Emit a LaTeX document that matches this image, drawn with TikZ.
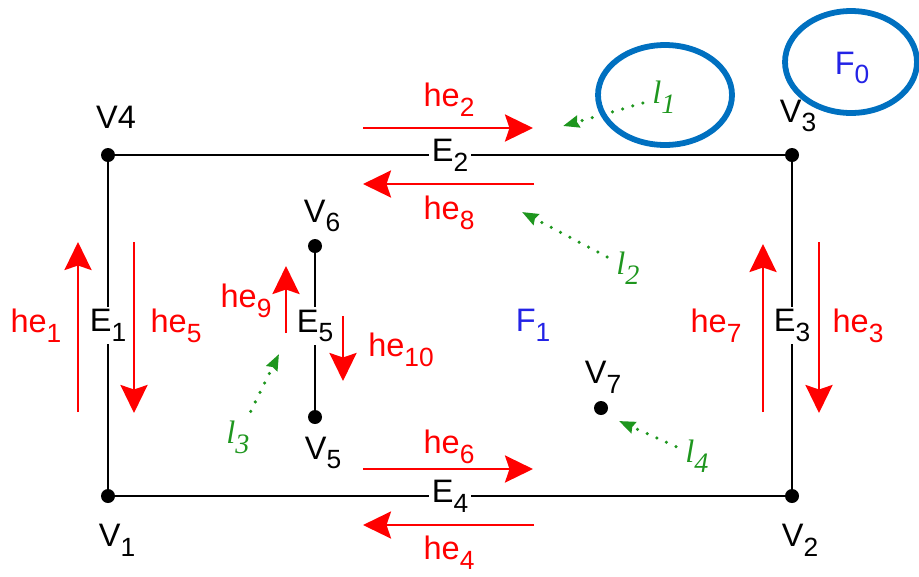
\documentclass[tikz,border=0pt]{standalone}
\usepackage{fontspec}
\setmainfont{Liberation Sans}
\newfontfamily\lserif{Liberation Serif}
\usetikzlibrary{positioning,arrows.meta,calc}

\definecolor{heRed}{RGB}{255,0,0}
\definecolor{lGreen}{RGB}{30,150,30}
\definecolor{fBlue}{RGB}{35,35,230}
\definecolor{ringBlue}{RGB}{0,112,192}

% label with a lowered index
\newcommand{\ix}[2]{#1\raisebox{-0.3em}{\fontsize{15}{15}\selectfont #2}}
\newcommand{\lpt}[1]{{\lserif\itshape l\raisebox{-0.3em}{\fontsize{16}{16}\selectfont #1}}}

\tikzset{
  vtx/.style={circle,fill=black,inner sep=0pt,minimum size=0.28cm},
  edge/.style={line width=1.5pt},
  elab/.style={fill=white,inner sep=1.5pt},
  half/.style={heRed,line width=1.6pt,-{Stealth[length=0.56cm,width=0.54cm,inset=0.09cm]}},
  hlab/.style={text=heRed},
  flab/.style={text=fBlue},
  ptr/.style={lGreen,line width=2pt,dash pattern=on 0pt off 6pt,line cap=round,
    shorten <=2pt,-{Stealth[length=0.32cm,width=0.24cm,inset=0.03cm]}},
  ring/.style={draw=ringBlue,line width=3.3pt}
}

\begin{document}
\begin{tikzpicture}[x=0.02cm,y=-0.02cm,font=\fontsize{18.5}{20}\selectfont]
\useasboundingbox (0,0) rectangle (919,576);

% vertices
\node[vtx] (v1) at (108,496) {};
\node[vtx] (v2) at (792,496) {};
\node[vtx] (v3) at (792,155) {};
\node[vtx] (v4) at (108,155) {};
\node[vtx] (v5) at (315,417) {};
\node[vtx] (v6) at (315,246) {};
\node[vtx] (v7) at (601,408) {};

\node at (117,540) {\ix{V}{1}};
\node at (800,540) {\ix{V}{2}};
\node at (798,116) {\ix{V}{3}};
\node at (116,117) {V4};
\node at (323,453) {\ix{V}{5}};
\node at (322,216) {\ix{V}{6}};
\node at (603,377) {\ix{V}{7}};

% edges
\draw[edge] (v1) -- node[elab] {\ix{E}{4}} (v2);
\draw[edge] (v2) -- node[elab] {\ix{E}{3}} (v3);
\draw[edge] (v3) -- node[elab] {\ix{E}{2}} (v4);
\draw[edge] (v4) -- node[elab] {\ix{E}{1}} (v1);
\draw[edge] (v5) -- node[elab,pos=0.535] {\ix{E}{5}} (v6);

% half edges
\draw[half] (363,128) -- (533,128);
\draw[half] (534,184) -- (363,184);
\draw[half] (363,469) -- (533,469);
\draw[half] (534,525) -- (363,525);
\draw[half] (78,412) -- (78,242);
\draw[half] (134,242) -- (134,413);
\draw[half] (763,412) -- (763,244);
\draw[half] (819,242) -- (819,413);
\draw[half] (286,333) -- (286,266);
\draw[half] (343,316) -- (343,381);

\node[hlab] (he2) at (449,100) {\ix{he}{2}};
\node[hlab] (he8) at (449,213) {\ix{he}{8}};
\node[hlab] (he6) at (449,447) {\ix{he}{6}};
\node[hlab] (he4) at (449,553) {\ix{he}{4}};
\node[hlab] (he1) at (36,326) {\ix{he}{1}};
\node[hlab] (he5) at (176,326) {\ix{he}{5}};
\node[hlab] (he9) at (246,301) {\ix{he}{9}};
\node[hlab] (he10) at (401,350) {\ix{he}{10}};
\node[hlab] (he7) at (716,326) {\ix{he}{7}};
\node[hlab] (he3) at (858,326) {\ix{he}{3}};

% faces
\node[flab] (f1) at (533,325) {\ix{F}{1}};
\node[flab] (f0) at (852,68) {\ix{F}{0}};

% loops
\node[text=lGreen] (l1) at (664,97) {\lpt{1}};
\node[text=lGreen] (l2) at (628,268) {\lpt{2}};
\node[text=lGreen] (l3) at (238,437) {\lpt{3}};
\node[text=lGreen] (l4) at (697,456) {\lpt{4}};
\coordinate (t1) at (563,126);
\coordinate (t2) at (522,212);
\coordinate (t3) at (279,354);
\coordinate (t4) at (619,421);
\draw[ptr] (l1) -- (t1);
\draw[ptr] (l2) -- (t2);
\draw[ptr] (l3) -- (t3);
\draw[ptr] (l4) -- (t4);

\draw[ring] (665,95) ellipse [x radius=1.34cm, y radius=1.0cm];
\draw[ring] (851,62) ellipse [x radius=1.32cm, y radius=1.02cm];
\end{tikzpicture}
\end{document}
